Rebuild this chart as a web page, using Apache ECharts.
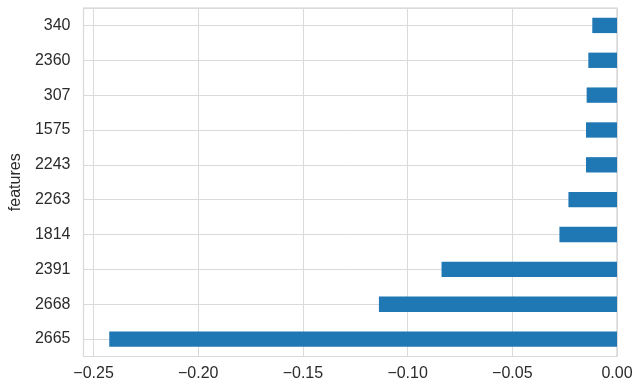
<!DOCTYPE html>
<html>
<head>
<meta charset="utf-8">
<script src="https://cdn.jsdelivr.net/npm/echarts@6/dist/echarts.min.js"></script>
<style>html,body{margin:0;padding:0;background:#fff;}#c{width:636px;height:391px;}</style>
</head>
<body>
<div id="c"></div>
<script>
// bottom to top
var features = ['2665', '2668', '2391', '1814', '2263', '2243', '1575', '307', '2360', '340'];
var values = [-0.2425, -0.1137, -0.0838, -0.0275, -0.0232, -0.0148, -0.0148, -0.0145, -0.0137, -0.0118];
var xMin = -0.2548, xMax = 0;

var chart = echarts.init(document.getElementById('c'), null, {renderer: 'canvas'});
var txt = {fontFamily: 'Liberation Sans, Arial, sans-serif', fontSize: 16, color: '#2b2b2b'};
chart.setOption({
  animation: false,
  grid: {left: 82, right: 19, top: 8, bottom: 34.5, show: true, borderColor: '#d0d0d0', borderWidth: 1.2, backgroundColor: '#fff'},
  xAxis: {
    type: 'value', min: xMin, max: xMax, splitNumber: 5,
    axisLine: {show: false}, axisTick: {show: false},
    splitLine: {show: true, lineStyle: {color: '#dadada', width: 1}},
    axisLabel: Object.assign({margin: 9, showMinLabel: false, formatter: function (v) {
      return (v < -1e-9 ? '\u2212' : '') + Math.abs(v).toFixed(2);
    }}, txt)
  },
  yAxis: [{
    type: 'category', data: features,
    name: 'features', nameLocation: 'middle', nameGap: 55, nameRotate: 90,
    nameTextStyle: txt,
    axisLine: {show: false}, axisTick: {show: false}, splitLine: {show: false},
    axisLabel: Object.assign({margin: 13}, txt)
  }, {
    type: 'value', min: -0.5, max: 9.5, splitNumber: 10, position: 'left',
    axisLine: {show: false}, axisTick: {show: false}, axisLabel: {show: false},
    splitLine: {show: true, lineStyle: {color: '#dadada', width: 1}}
  }],
  series: [{
    type: 'bar', data: values, yAxisIndex: 0, barWidth: '44%',
    itemStyle: {color: '#1f77b4'}
  }]
});
</script>
</body>
</html>
